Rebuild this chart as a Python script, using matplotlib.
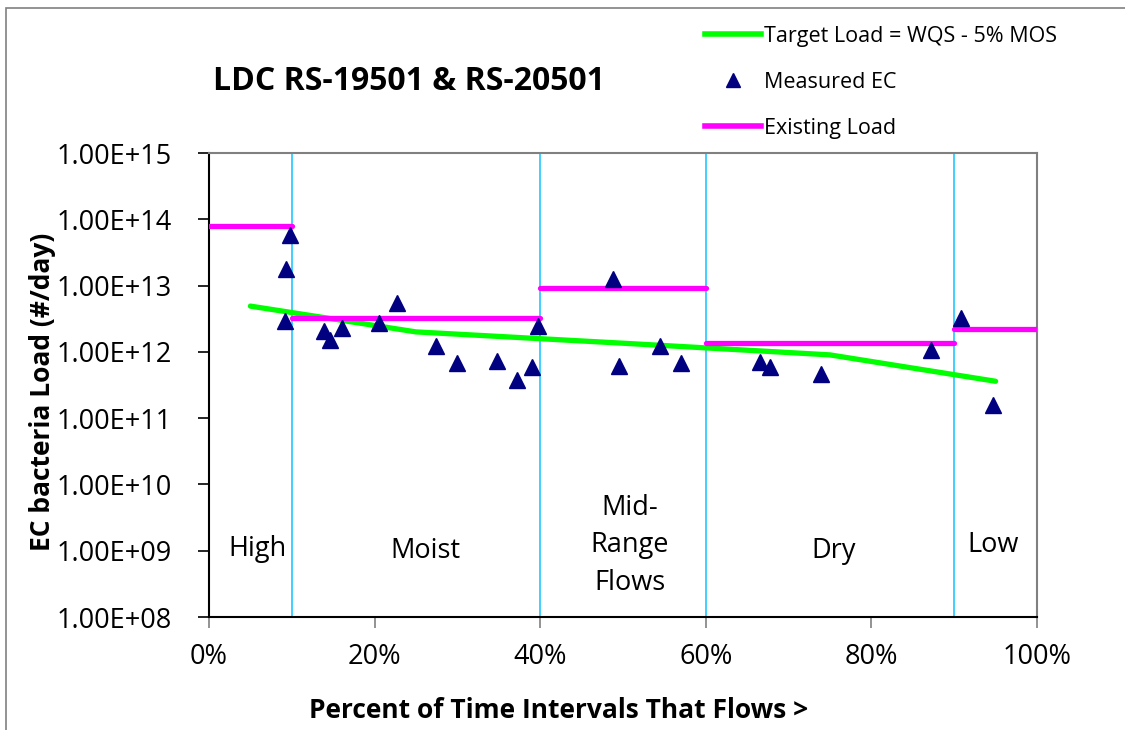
import matplotlib
matplotlib.use("Agg")
import matplotlib.pyplot as plt
from matplotlib.ticker import FuncFormatter, FixedLocator, NullLocator
from matplotlib.lines import Line2D
from matplotlib.patches import Rectangle

plt.rcParams['font.family'] = ['Open Sans', 'DejaVu Sans']

# ---- data ----
title = "LDC RS-19501 & RS-20501"
ec_pct = [9.78, 9.3, 9.2, 13.85, 14.6, 16.1, 20.5, 22.7, 27.4, 29.9, 34.8, 37.2,
          39.0, 39.7, 48.75, 49.5, 54.5, 57.0, 66.5, 67.8, 73.95, 87.2, 90.8, 94.7]
ec_load = [5.8e13, 1.8e13, 2.96e12, 2.09e12, 1.51e12, 2.32e12, 2.7e12, 5.5e12,
           1.23e12, 6.7e11, 7.2e11, 3.77e11, 6.0e11, 2.46e12, 1.24e13, 6.2e11,
           1.22e12, 6.8e11, 7.0e11, 6.0e11, 4.6e11, 1.07e12, 3.2e12, 1.57e11]
target_pct = [5, 25, 50, 75, 95]
target_load = [4.9e12, 2.0e12, 1.35e12, 9.0e11, 3.6e11]
exist_start = [0, 10, 40, 60, 90]
exist_end = [10, 40, 60, 90, 100]
exist_load = [7.9e13, 3.2e12, 9.1e12, 1.35e12, 2.2e12]
zone_bounds = [10, 40, 60, 90]
zone_labels = ["High", "Moist", "Mid-\nRange\nFlows", "Dry", "Low"]
zone_label_x = [5.9, 26.1, 50.8, 75.4, 94.7]
y_ticks = [1e8, 1e9, 1e10, 1e11, 1e12, 1e13, 1e14, 1e15]
x_ticks = [0, 20, 40, 60, 80, 100]

fig = plt.figure(figsize=(11.25, 7.3), dpi=100)
ax = fig.add_axes([209/1125, 1-617/730, (1037-209)/1125, (617-153)/730])

# outer chart frame
fig.patches.append(Rectangle((6/1125, -0.2), 1.2, 1.2 - 8/730, transform=fig.transFigure,
                             fill=False, edgecolor='#808080', linewidth=1.2, clip_on=False))

for xb in zone_bounds:
    ax.axvline(xb, color='#33CCFF', linewidth=1.3, zorder=1)

ax.hlines(exist_load, exist_start, exist_end, colors='#FF00FF', linewidth=3.8,
          capstyle='round', zorder=3)
ax.plot(target_pct, target_load, color='#00FF00', linewidth=3.8,
        solid_capstyle='round', zorder=2)
ax.plot(ec_pct, ec_load, linestyle='none', marker='^', markersize=11,
        color='#000080', zorder=4)

ax.set_yscale('log')
ax.set_ylim(1e8, 1e15)
ax.set_xlim(0, 100)
ax.yaxis.set_major_locator(FixedLocator(y_ticks))
ax.yaxis.set_minor_locator(NullLocator())
ax.yaxis.set_major_formatter(FuncFormatter(lambda v, p: f"{v:.2E}"))
ax.xaxis.set_major_locator(FixedLocator(x_ticks))
ax.xaxis.set_major_formatter(FuncFormatter(lambda v, p: f"{v:.0f}%"))
ax.tick_params(axis='both', direction='out', length=8, width=1.2, labelsize=19.5,
               color='#000000')
ax.tick_params(axis='x', pad=11, color='#808080')
ax.tick_params(axis='y', pad=19)

for s in ['left', 'bottom']:
    ax.spines[s].set_color('#000000')
    ax.spines[s].set_linewidth(1.5)
for s in ['top', 'right']:
    ax.spines[s].set_color('#808080')
    ax.spines[s].set_linewidth(1.5)

ax.set_xlabel("Percent of Time Intervals That Flows >", fontsize=19,
              fontweight='bold')
ax.xaxis.set_label_coords((559-209)/828, -(711-617)/464, transform=ax.transAxes)
ax.xaxis.label.set_va('center')
ax.set_ylabel("EC bacteria Load (#/day)", fontsize=19, fontweight='bold')
ax.yaxis.set_label_coords(-(209-43)/828, (617-392)/464, transform=ax.transAxes)
ax.yaxis.label.set_va('center')

zone_y = [1.05e9, 1.0e9, 1.2e9, 1.0e9, 1.2e9]
for lab, xx, yy in zip(zone_labels, zone_label_x, zone_y):
    ax.text(xx, yy, lab, ha='center', va='center', fontsize=19.5,
            linespacing=1.45, zorder=5)

fig.text(409/1125, 1-82/730, title, ha='center', va='center', fontsize=23,
         fontweight='bold')

handles = [Line2D([], [], color='#00FF00', linewidth=4),
           Line2D([], [], linestyle='none', marker='^', markersize=10, color='#000080'),
           Line2D([], [], color='#FF00FF', linewidth=4)]
labels = ["Target Load = WQS - 5% MOS", "Measured EC", "Existing Load"]
fig.legend(handles, labels, loc='upper left', bbox_to_anchor=(705/1125, 1-26/730),
           frameon=False, fontsize=15.5, handlelength=2.6, handletextpad=0.15,
           labelspacing=1.16, borderaxespad=0, borderpad=0)

fig.savefig("out.png", dpi=100)
